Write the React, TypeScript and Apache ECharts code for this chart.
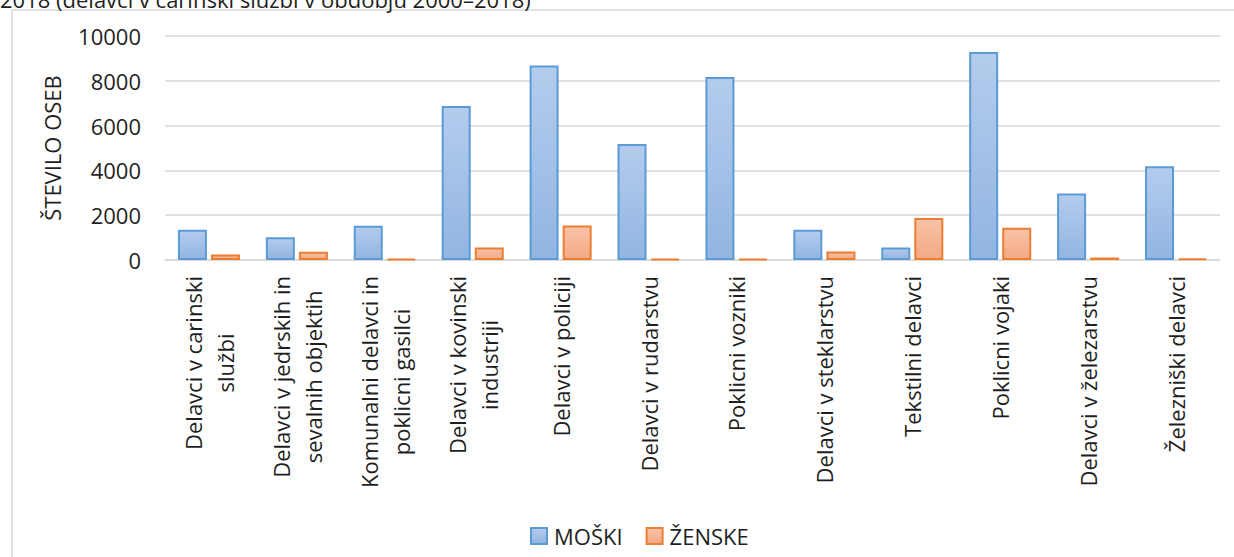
import React, { useEffect, useRef } from "react";
import * as echarts from "echarts";

const categories = [
  "Delavci v carinski\nslužbi",
  "Delavci v jedrskih in\nsevalnih objektih",
  "Komunalni delavci in\npoklicni gasilci",
  "Delavci v kovinski\nindustriji",
  "Delavci v policiji",
  "Delavci v rudarstvu",
  "Poklicni vozniki",
  "Delavci v steklarstvu",
  "Tekstilni delavci",
  "Poklicni vojaki",
  "Delavci v železarstvu",
  "Železniški delavci",
];
const moski = [1350, 1020, 1530, 6880, 8680, 5180, 8170, 1350, 560, 9290, 2970, 4180];
const zenske = [240, 370, 50, 560, 1540, 50, 50, 380, 1870, 1440, 110, 70];
const seriesNames = ["MOŠKI", "ŽENSKE"];
const yTicks = { min: 0, max: 10000, interval: 2000 };
const titleText = "2018 (delavci v carinski službi v obdobju 2000–2018)";
const yAxisName = "ŠTEVILO OSEB";

const FONT = "'Open Sans', sans-serif";
const TXT = "#1f1f1f";

export default function App() {
  const ref = useRef<HTMLDivElement>(null);
  useEffect(() => {
    if (!ref.current) return;
    const chart = echarts.init(ref.current, null, { renderer: "svg" });
    const blueFill = new echarts.graphic.LinearGradient(0, 0, 0, 1, [
      { offset: 0, color: "#b4cced" },
      { offset: 1, color: "#92b5e2" },
    ]);
    const orangeFill = new echarts.graphic.LinearGradient(0, 0, 0, 1, [
      { offset: 0, color: "#f8c3a8" },
      { offset: 1, color: "#f4a984" },
    ]);
    chart.setOption({
      animation: false,
      textStyle: { fontFamily: FONT },
      graphic: [
        {
          type: "rect",
          shape: { x: 12, y: 10, width: 1240, height: 560 },
          style: { fill: "none", stroke: "#d9d9d9", lineWidth: 1.5 },
          silent: true,
        },
        {
          type: "text",
          x: 0,
          y: 10,
          style: {
            text: titleText,
            fontSize: 22,
            fontFamily: FONT,
            fill: TXT,
            verticalAlign: "bottom",
          },
        },
      ],
      grid: { left: 165, right: 14, top: 36, bottom: 297, containLabel: false },
      legend: {
        left: 525,
        top: 520,
        itemWidth: 16,
        itemHeight: 16,
        itemGap: 23,
        icon: "rect",
        textStyle: { fontSize: 22, color: TXT, fontFamily: FONT, padding: [0, 0, 0, 2] },
        data: seriesNames,
      },
      xAxis: {
        type: "category",
        data: categories,
        axisLine: { lineStyle: { color: "#d9d9d9", width: 1.5 } },
        axisTick: { show: false },
        axisLabel: {
          interval: 0,
          rotate: 90,
          margin: 16,
          formatter: (v: string) =>
            v
              .split("\n")
              .map((l) => `{c|${l}}`)
              .join("\n"),
          rich: {
            c: {
              align: "center",
              fontSize: 22,
              lineHeight: 32,
              fontFamily: FONT,
              color: TXT,
            },
          },
        },
      },
      yAxis: {
        type: "value",
        min: yTicks.min,
        max: yTicks.max,
        interval: yTicks.interval,
        name: yAxisName,
        nameLocation: "middle",
        nameGap: 102,
        nameRotate: 90,
        nameTextStyle: { fontSize: 22, color: TXT, fontFamily: FONT },
        axisLine: { show: false },
        axisTick: { show: false },
        axisLabel: {
          fontSize: 22,
          color: TXT,
          fontFamily: FONT,
          margin: 24,
          formatter: (v: number) => String(v),
        },
        splitLine: { lineStyle: { color: "#d9d9d9", width: 1.5 } },
      },
      series: [
        {
          name: seriesNames[0],
          type: "bar",
          data: moski,
          barWidth: 29,
          barGap: "14%",
          itemStyle: { color: blueFill, borderColor: "#5b9bd5", borderWidth: 2 },
        },
        {
          name: seriesNames[1],
          type: "bar",
          data: zenske,
          barWidth: 29,
          barGap: "14%",
          itemStyle: { color: orangeFill, borderColor: "#ed7d31", borderWidth: 2 },
        },
      ],
    });
    return () => chart.dispose();
  }, []);
  return (
    <div
      ref={ref}
      style={{ position: "absolute", left: 0, top: 0, width: 1234, height: 557, background: "#fff" }}
    />
  );
}
